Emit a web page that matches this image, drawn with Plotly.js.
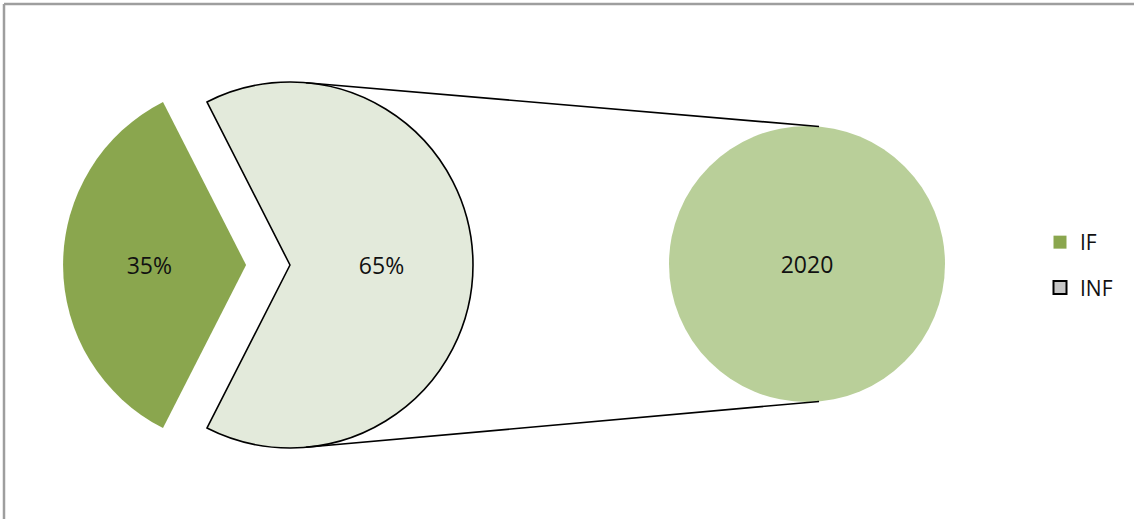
<!DOCTYPE html>
<html>
<head>
<meta charset="utf-8">
<script src="https://cdn.plot.ly/plotly-3.0.1.min.js"></script>
<style>html,body{margin:0;padding:0;background:#fff;}#chart{width:1134px;height:519px;}</style>
</head>
<body>
<div id="chart"></div>
<script>
// ---- data ----
var mainLabels = ['IF', 'INF'];
var mainValues = [35, 65];
var mainText = ['35%', '65%'];
var subLabels = ['2020'];
var subValues = [65];
var subText = ['2020'];
var legendLabels = ['IF', 'INF'];

// ---- colours ----
var colIF = '#8aa64e';
var colINF = '#e3eadb';
var colSub = '#b9cf99';
var legendFill = ['#8aa64e', '#c6c6c6'];
var legendLine = ['#8aa64e', '#000000'];

var W = 1134, H = 519;
var FONT = 'Open Sans, DejaVu Sans, sans-serif';

// pie geometry (pixels)
var left = {cx: 290, cy: 265, r: 183, pull: 0.24};
var right = {cx: 807, cy: 264, r: 138};

function domainOf(p, pull) {
  var half = p.r * (1 + (pull || 0));
  return {
    x: [(p.cx - half) / W, (p.cx + half) / W],
    y: [1 - (p.cy + half) / H, 1 - (p.cy - half) / H]
  };
}

var traces = [
  {
    type: 'pie',
    labels: mainLabels,
    values: mainValues,
    text: mainText,
    textinfo: 'text',
    textposition: 'inside',
    insidetextorientation: 'horizontal',
    sort: false,
    direction: 'clockwise',
    rotation: -153,
    pull: [left.pull, 0],
    marker: {colors: [colIF, colINF], line: {color: ['rgba(0,0,0,0)', '#000000'], width: [0, 1.6]}},
    textfont: {family: FONT, size: 23, color: '#111111'},
    domain: domainOf(left, left.pull),
    showlegend: false,
    hoverinfo: 'none'
  },
  {
    type: 'pie',
    labels: subLabels,
    values: subValues,
    text: subText,
    textinfo: 'text',
    textposition: 'inside',
    insidetextorientation: 'horizontal',
    sort: false,
    marker: {colors: [colSub], line: {width: 0}},
    textfont: {family: FONT, size: 23, color: '#111111'},
    domain: domainOf(right, 0),
    showlegend: false,
    hoverinfo: 'none'
  }
];

legendLabels.forEach(function (lab, i) {
  traces.push({
    type: 'scatter', mode: 'markers', x: [null], y: [null],
    name: lab, legendgroup: 'g' + i,
    marker: {symbol: 'square', size: 13, color: legendFill[i], line: {color: legendLine[i], width: i === 1 ? 2 : 0}},
    hoverinfo: 'none'
  });
});

// connector lines derived from pie geometry
var a = 5 * Math.PI / 180;
function px(x) { return x / W; }
function py(y) { return 1 - y / H; }
var shapes = [];
[-1, 1].forEach(function (s) {
  shapes.push({
    type: 'line', xref: 'paper', yref: 'paper',
    x0: px(left.cx + left.r * Math.sin(a)), y0: py(left.cy + s * left.r * Math.cos(a)),
    x1: px(right.cx + right.r * Math.sin(a)), y1: py(right.cy + s * right.r * Math.cos(a)),
    line: {color: '#000000', width: 1.6}
  });
});
// chart border (top and left visible)
shapes.push({type: 'line', xref: 'paper', yref: 'paper', x0: px(4), y0: py(4), x1: 1.01, y1: py(4), line: {color: '#9e9e9e', width: 2.5}});
shapes.push({type: 'line', xref: 'paper', yref: 'paper', x0: px(4), y0: py(4), x1: px(4), y1: -0.01, line: {color: '#9e9e9e', width: 2.5}});

var layout = {
  width: W, height: H,
  margin: {l: 0, r: 0, t: 0, b: 0},
  paper_bgcolor: '#ffffff', plot_bgcolor: '#ffffff',
  xaxis: {visible: false}, yaxis: {visible: false},
  showlegend: true,
  legend: {
    x: 1040 / W, xanchor: 'left', y: 1 - 222 / H, yanchor: 'top',
    font: {family: FONT, size: 21, color: '#111111'},
    tracegroupgap: 15, bgcolor: 'rgba(0,0,0,0)'
  },
  shapes: shapes,
  font: {family: FONT}
};

Plotly.newPlot('chart', traces, layout, {displayModeBar: false, staticPlot: true});
</script>
</body>
</html>
